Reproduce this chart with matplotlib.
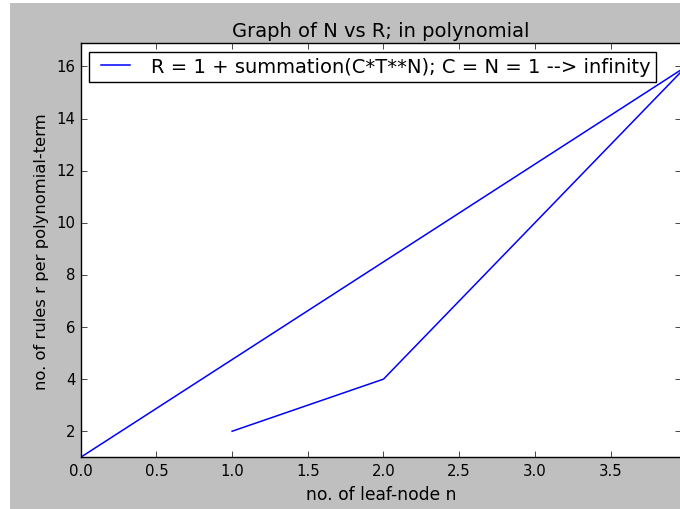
import matplotlib
matplotlib.use('Agg')
import matplotlib.pyplot as plt
from matplotlib.patches import Rectangle

# leaf-node count n and number of rules r, in the order they were plotted
leaf_nodes = [1, 2, 4, 0]
rules = [2, 4, 16, 1]

legend_label = 'R = 1 + summation(C*T**N); C = N = 1 --> infinity'

plt.style.use('classic')
plt.rcParams['font.family'] = 'DejaVu Sans'

W, H = 680, 510
fig = plt.figure(figsize=(W / 100, H / 100), dpi=100, facecolor='#bfbfbf')

# white strips left / top of the screenshot
fig.patches.append(Rectangle((0, 0), 10 / W, 1, transform=fig.transFigure,
                             facecolor='white', edgecolor='none', zorder=-1))
fig.patches.append(Rectangle((0, 1 - 4 / H), 1, 4 / H, transform=fig.transFigure,
                             facecolor='white', edgecolor='none', zorder=-1))

left, right, top, bottom = 80.7, 681.0, 44.0, 458.3
ax = fig.add_axes([left / W, (H - bottom) / H, (right - left) / W, (bottom - top) / H])

ax.plot(leaf_nodes, rules, color='b', linewidth=1.1, label=legend_label)

ax.set_xlim(0, 3.965)
ax.set_ylim(1, 16.9)
ax.set_xticks([0.0, 0.5, 1.0, 1.5, 2.0, 2.5, 3.0, 3.5])
ax.set_yticks([2, 4, 6, 8, 10, 12, 14, 16])
ax.tick_params(labelsize=10.7)

ax.set_title('Graph of N vs R; in polynomial', fontsize=14)
ax.set_xlabel('no. of leaf-node n', fontsize=12.3)
ax.set_ylabel('no. of rules r per polynomial-term', fontsize=11.8)

ax.legend(loc='upper left', fontsize=14, numpoints=2, handlelength=2.1,
          borderpad=0.28,
          bbox_to_anchor=((89.3 - left) / (right - left), 1 - (52.7 - top) / (bottom - top)),
          borderaxespad=0)

fig.savefig('out.png', dpi=100, facecolor=fig.get_facecolor())
